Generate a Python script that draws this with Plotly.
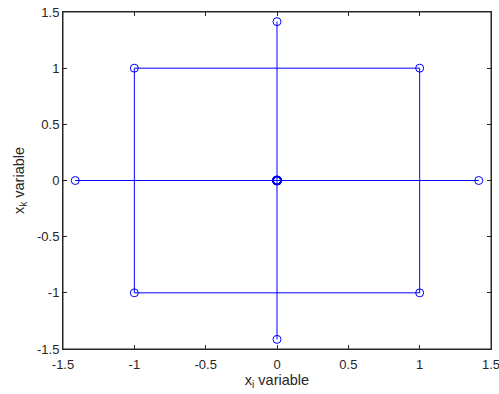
import plotly.graph_objects as go

a = 1.4142
# Central composite design: connecting lines (x_i, x_k)
square_x = [-1, 1, 1, -1, -1]
square_y = [-1, -1, 1, 1, -1]
axial_h_x = [-a, 0, a]
axial_h_y = [0, 0, 0]
axial_v_x = [0, 0, 0]
axial_v_y = [-a, 0, a]
# design points (markers)
point_x = [-1, 1, -1, 1, -a, a, 0, 0]
point_y = [-1, -1, 1, 1, 0, 0, -a, a]
center_x = [0, 0, 0, 0]
center_y = [0, 0, 0, 0]

x_ticks = [-1.5, -1, -0.5, 0, 0.5, 1, 1.5]
y_ticks = [-1.5, -1, -0.5, 0, 0.5, 1, 1.5]

blue = "rgb(0,0,255)"
fig = go.Figure()
for xs, ys in [(square_x, square_y), (axial_h_x, axial_h_y), (axial_v_x, axial_v_y)]:
    fig.add_trace(go.Scatter(x=xs, y=ys, mode="lines",
                             line=dict(color=blue, width=1),
                             showlegend=False, cliponaxis=False))
fig.add_trace(go.Scatter(x=point_x, y=point_y, mode="markers",
                         marker=dict(symbol="circle-open", size=8, color=blue, line=dict(width=1)),
                         showlegend=False, cliponaxis=False))
fig.add_trace(go.Scatter(x=center_x, y=center_y, mode="markers",
                         marker=dict(symbol="circle-open", size=8, color=blue, line=dict(width=1.7)),
                         showlegend=False))

axcol = "#262626"
font = "Liberation Sans, Arial"
common = dict(showgrid=False, zeroline=False, showline=True, linecolor=axcol, linewidth=1,
              mirror="ticks", ticks="inside", ticklen=4, tickcolor=axcol, automargin=False,
              ticklabeloverflow="allow",
              tickfont=dict(family=font, size=13, color=axcol))
fig.update_layout(
    width=499, height=394,
    margin=dict(l=63, r=8, t=12, b=45),
    paper_bgcolor="white", plot_bgcolor="white",
    xaxis=dict(range=[-1.5, 1.5], tickvals=x_ticks, ticktext=[f"{v:g}" for v in x_ticks],
               ticklabelstandoff=3,
               title=dict(text="x<sub>i</sub> variable", standoff=4,
                          font=dict(family=font, size=14.5, color=axcol)),
               **common),
    yaxis=dict(range=[-1.5, 1.5], tickvals=y_ticks, ticktext=[f"{v:g}" for v in y_ticks],
               title=dict(text="x<sub>k</sub> variable", standoff=8,
                          font=dict(family=font, size=14.5, color=axcol)),
               **common),
    shapes=[dict(type="rect", xref="paper", yref="paper", x0=0, x1=1, y0=0, y1=1,
                 line=dict(color=axcol, width=1), layer="above")],
)
fig.write_html("out.html", config={"displayModeBar": False},
               post_script="document.documentElement.style.overflow='hidden';document.body.style.margin='0';document.body.style.overflow='hidden';")
